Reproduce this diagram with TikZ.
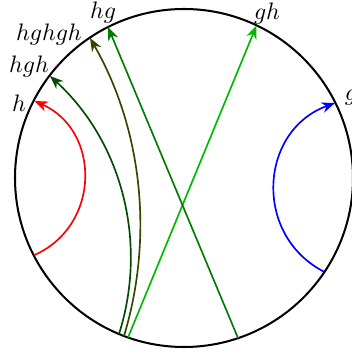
\documentclass[tikz,border=0pt]{standalone}
\usetikzlibrary{arrows.meta}
\definecolor{cgh}{RGB}{0,185,0}
\definecolor{chg}{RGB}{0,125,0}
\definecolor{chgh}{RGB}{0,75,0}
\definecolor{chghgh}{RGB}{50,70,0}
\begin{document}
\begin{tikzpicture}[x=0.42pt,y=0.42pt,
  geo/.style={line width=0.7pt,-{Stealth[length=5.6pt,width=4.4pt,inset=1.8pt]}},
  lab/.style={inner sep=0pt,anchor=center}]
\useasboundingbox (0,0) rectangle (351,356);
\coordinate (c) at (184,178);
\draw[line width=0.85pt] (c) circle[radius=169];
% endpoints
\coordinate (r1) at (34.5,101);
\coordinate (r2) at (34.5,255);
\coordinate (b1) at (324.5,84);
\coordinate (b2) at (335,253);
\coordinate (d1) at (119,22);
\coordinate (d2) at (50,280);
\coordinate (o1) at (124,20);
\coordinate (o2) at (90,318);
\coordinate (g1) at (128,18.5);
\coordinate (g2) at (256.5,330.5);
\coordinate (k1) at (238,18);
\coordinate (k2) at (108,329);
% geodesics
\draw[geo,red] (r1) to[bend right=66,looseness=1.21] (r2);
\draw[geo,blue] (b1) to[bend left=66.5,looseness=1.22] (b2);
\draw[geo,chgh] (d1) to[bend right=32.6,looseness=0.93] (d2);
\draw[geo,chghgh] (o1) to[bend right=23.3,looseness=0.89] (o2);
\draw[geo,cgh] (g1) -- (g2);
\draw[geo,chg] (k1) -- (k2);
% labels
\node[lab] (lh) at (19,253) {$h$};
\node[lab] (lhgh) at (29,289) {$hgh$};
\node[lab] (lhghgh) at (49,321) {$hghgh$};
\node[lab] (lhg) at (103,343.5) {$hg$};
\node[lab] (lgh) at (267,342.5) {$gh$};
\node[lab] (lg) at (351,258) {$g$};
\end{tikzpicture}
\end{document}
